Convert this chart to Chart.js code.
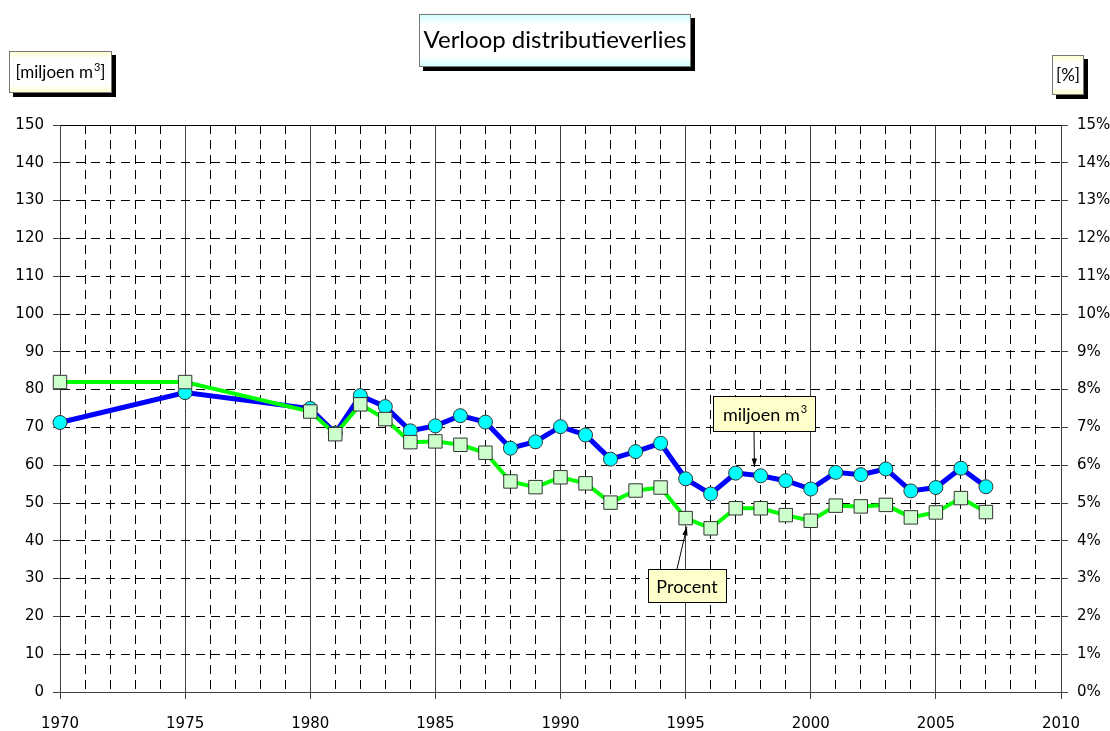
<!DOCTYPE html>
<html>
<head>
<meta charset="utf-8">
<script src="https://cdn.jsdelivr.net/npm/chart.js@4.4.0/dist/chart.umd.min.js"></script>
<style>
  html, body { margin: 0; padding: 0; background: #fff; }
  #wrap { width: 1110px; height: 731px; }
</style>
</head>
<body>
<div id="wrap"><canvas id="myChart" width="1110" height="731"></canvas></div>
<script>
// jaren met metingen
var years = [1970, 1975, 1980, 1981, 1982, 1983, 1984, 1985, 1986, 1987, 1988, 1989,
             1990, 1991, 1992, 1993, 1994, 1995, 1996, 1997, 1998, 1999, 2000, 2001,
             2002, 2003, 2004, 2005, 2006, 2007];
// distributieverlies in miljoen m3
var volume = [71.3, 79.2, 75.0, 68.5, 78.4, 75.5, 69.1, 70.4, 73.1, 71.4, 64.5, 66.2,
              70.2, 68.0, 61.6, 63.6, 65.8, 56.4, 52.4, 57.9, 57.2, 55.9, 53.7, 58.1,
              57.5, 59.0, 53.2, 54.1, 59.2, 54.3];
// distributieverlies in procent
var percent = [8.2, 8.2, 7.42, 6.82, 7.61, 7.22, 6.61, 6.63, 6.54, 6.33, 5.57, 5.42,
               5.68, 5.52, 5.01, 5.33, 5.41, 4.60, 4.33, 4.86, 4.86, 4.68, 4.53, 4.93,
               4.91, 4.95, 4.62, 4.75, 5.13, 4.76];

var xMin = 1970, xMax = 2010;
var leftMax = 150, rightMax = 15;

var tickFont = { family: 'DejaVu Sans', size: 15 };
var boxFont = 'Lato';

function pts(vals) {
  return years.map(function (y, i) { return { x: y, y: vals[i] }; });
}

function gradBox(ctx, x, y, w, h, col, shadow) {
  if (shadow) {
    ctx.fillStyle = '#000';
    ctx.fillRect(x + 4, y + 4, w, h);
  }
  var g = ctx.createLinearGradient(0, y, 0, y + h);
  g.addColorStop(0, col);
  g.addColorStop(0.2, '#ffffff');
  g.addColorStop(0.8, '#ffffff');
  g.addColorStop(1, col);
  ctx.fillStyle = g;
  ctx.fillRect(x, y, w, h);
  ctx.strokeStyle = '#777';
  ctx.lineWidth = 1;
  ctx.strokeRect(x + 0.5, y + 0.5, w - 1, h - 1);
}

// tekst met optionele superscript en nawoord, gecentreerd of links
function supText(ctx, base, sup, tail, x, y, size, align) {
  var small = Math.round(size * 0.62) + 'px ' + boxFont;
  var big = size + 'px ' + boxFont;
  ctx.font = big;
  var bw = ctx.measureText(base).width;
  var tw = tail ? ctx.measureText(tail).width : 0;
  ctx.font = small;
  var sw = sup ? ctx.measureText(sup).width + 1 : 0;
  var start = align === 'center' ? x - (bw + sw + tw) / 2 : x;
  ctx.textAlign = 'left';
  ctx.textBaseline = 'alphabetic';
  ctx.fillStyle = '#000';
  ctx.font = big;
  ctx.fillText(base, start, y);
  if (sup) {
    ctx.font = small;
    ctx.fillText(sup, start + bw + 1, y - size * 0.42);
  }
  if (tail) {
    ctx.font = big;
    ctx.fillText(tail, start + bw + sw, y);
  }
}

function arrow(ctx, x1, y1, x2, y2) {
  ctx.strokeStyle = '#000';
  ctx.fillStyle = '#000';
  ctx.lineWidth = 1;
  ctx.beginPath();
  ctx.moveTo(x1, y1);
  ctx.lineTo(x2, y2);
  ctx.stroke();
  var a = Math.atan2(y2 - y1, x2 - x1);
  ctx.beginPath();
  ctx.moveTo(x2, y2);
  ctx.lineTo(x2 - 9 * Math.cos(a - 0.3), y2 - 9 * Math.sin(a - 0.3));
  ctx.lineTo(x2 - 9 * Math.cos(a + 0.3), y2 - 9 * Math.sin(a + 0.3));
  ctx.closePath();
  ctx.fill();
}

var decor = {
  id: 'decor',
  afterDraw: function (chart) {
    var ctx = chart.ctx;
    var xs = chart.scales.x, ys = chart.scales.y;
    ctx.save();

    // titel
    gradBox(ctx, 419, 14, 272, 53, '#ccffff', true);
    supText(ctx, 'Verloop distributieverlies', '', '', 555, 48, 24, 'center');

    // eenheden
    gradBox(ctx, 9, 51, 103, 42, '#ffffcc', true);
    supText(ctx, '[miljoen m', '3', ']', 60.5, 78, 17, 'center');
    gradBox(ctx, 1052, 55, 32, 40, '#ffffcc', true);
    supText(ctx, '[%]', '', '', 1068, 81, 17, 'center');

    // labels met pijlen
    ctx.fillStyle = '#ffffcc';
    ctx.fillRect(713, 396, 103, 36);
    ctx.strokeStyle = '#000';
    ctx.lineWidth = 1;
    ctx.strokeRect(713.5, 396.5, 102, 35);
    supText(ctx, 'miljoen m', '3', '', 765, 421, 18, 'center');
    arrow(ctx, 754, 432, xs.getPixelForValue(1997.75), ys.getPixelForValue(59.5));

    ctx.fillStyle = '#ffffcc';
    ctx.fillRect(648, 569, 79, 34);
    ctx.strokeStyle = '#000';
    ctx.strokeRect(648.5, 569.5, 78, 33);
    supText(ctx, 'Procent', '', '', 687, 593, 18, 'center');
    arrow(ctx, 677, 569, xs.getPixelForValue(1995.05), ys.getPixelForValue(43.7));
    ctx.restore();
  }
};

var ctx = document.getElementById('myChart').getContext('2d');
var myChart = new Chart(ctx, {
  type: 'line',
  data: {
    datasets: [{
      label: 'Procent',
      data: pts(percent),
      yAxisID: 'y1',
      borderColor: '#00ff00',
      borderWidth: 4,
      pointStyle: 'rect',
      pointRadius: 9.5,
      pointBackgroundColor: '#ccffcc',
      pointBorderColor: '#333333',
      pointBorderWidth: 1,
      tension: 0,
      clip: false,
      order: 1
    }, {
      label: 'miljoen m3',
      data: pts(volume),
      yAxisID: 'y',
      borderColor: '#0000ff',
      borderWidth: 5,
      pointStyle: 'circle',
      pointRadius: 7,
      pointBackgroundColor: '#00ffff',
      pointBorderColor: '#333333',
      pointBorderWidth: 1,
      tension: 0,
      clip: false,
      order: 2
    }]
  },
  options: {
    responsive: false,
    maintainAspectRatio: false,
    animation: false,
    layout: { padding: { top: 125, left: 0, right: 0, bottom: 0 } },
    plugins: { legend: { display: false }, tooltip: { enabled: false } },
    scales: {
      x: {
        type: 'linear',
        min: xMin, max: xMax,
        afterFit: function (s) { s.height = 39; },
        ticks: {
          stepSize: 1, autoSkip: false, maxRotation: 0, padding: 16,
          color: '#000', font: tickFont,
          callback: function (v) { return v % 5 === 0 ? String(v) : ''; }
        },
        grid: {
          tickLength: 7,
          lineWidth: 1,
          color: function (c) { return c.tick && c.tick.value % 5 === 0 ? '#404040' : '#000'; },
          tickColor: function (c) { return c.tick && c.tick.value % 5 === 0 ? '#404040' : 'rgba(0,0,0,0)'; }
        },
        border: {
          color: '#404040',
          dash: function (c) { return c.tick && c.tick.value % 5 === 0 ? [] : [9, 6]; }
        }
      },
      y: {
        position: 'left',
        min: 0, max: leftMax,
        afterFit: function (s) { s.width = 60; },
        ticks: { stepSize: 10, padding: 9, color: '#000', font: tickFont },
        grid: { tickLength: 7, color: '#000', tickColor: '#404040', lineWidth: 1 },
        border: {
          color: '#404040',
          dash: function (c) { return c.tick && (c.tick.value === leftMax || c.tick.value === 0) ? [] : [9, 6]; }
        }
      },
      y1: {
        position: 'right',
        min: 0, max: rightMax,
        afterFit: function (s) { s.width = 49; },
        ticks: {
          stepSize: 1, padding: 9, color: '#000', font: tickFont,
          callback: function (v) { return v + '%'; }
        },
        grid: { drawOnChartArea: false, tickLength: 7, tickColor: '#404040' },
        border: { color: '#404040' }
      }
    }
  },
  plugins: [decor]
});
</script>
</body>
</html>
